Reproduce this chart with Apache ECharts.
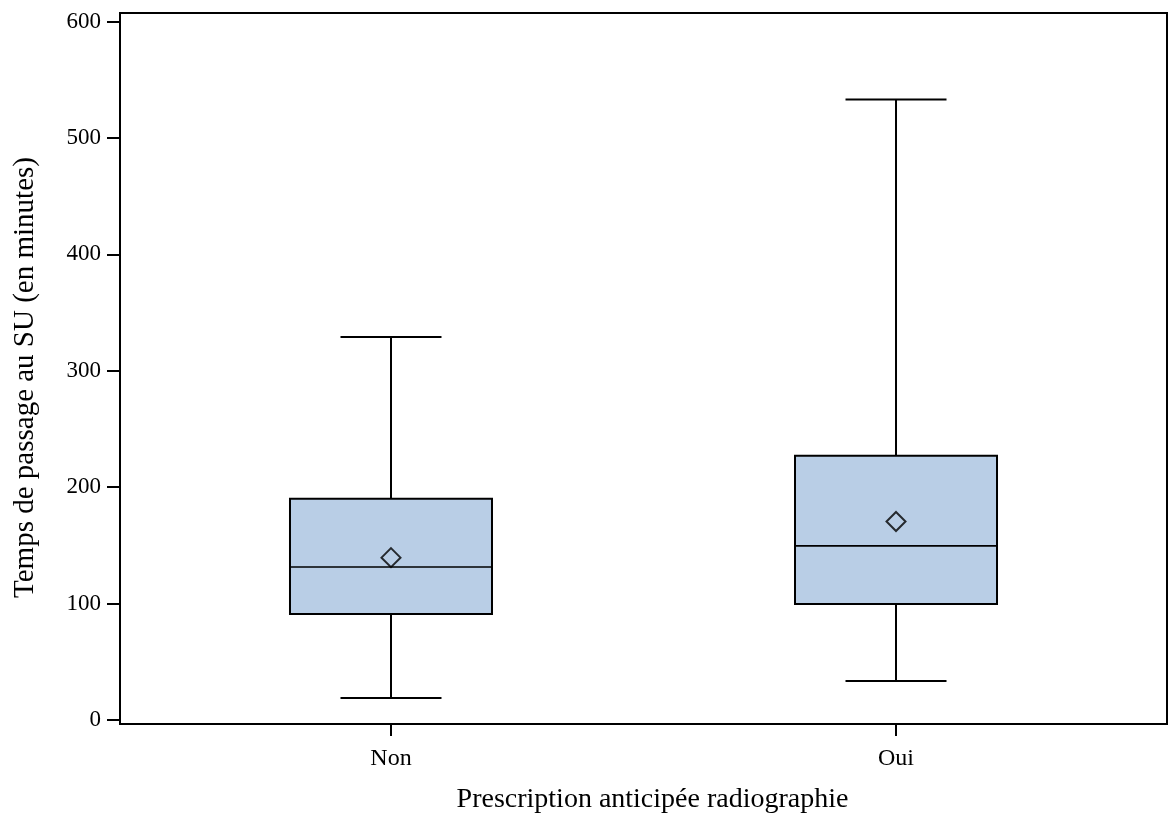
<!DOCTYPE html>
<html>
<head>
<meta charset="utf-8">
<script src="https://cdn.jsdelivr.net/npm/echarts@6/dist/echarts.min.js"></script>
<style>html,body{margin:0;padding:0;background:#fff}#c{width:1170px;height:824px}</style>
</head>
<body>
<div id="c"></div>
<script>
const categories = ['Non', 'Oui'];
const whiskerLow = [19, 33.5];
const q1 = [91, 99.7];
const median = [131.5, 149.6];
const q3 = [190, 227];
const whiskerHigh = [329, 533];
const means = [139.5, 170.5];
const yTicks = [0, 100, 200, 300, 400, 500, 600];

const boxData = categories.map((c, i) => [i, whiskerLow[i], q1[i], median[i], q3[i], whiskerHigh[i]]);
const meanData = categories.map((c, i) => [i, means[i]]);

const font = '"Liberation Serif", "Times New Roman", serif';
const chart = echarts.init(document.getElementById('c'), null, {renderer: 'canvas'});
chart.setOption({
  animation: false,
  backgroundColor: '#fff',
  grid: {left: 120, right: 3, top: 13, bottom: 100, show: true, borderColor: '#000', borderWidth: 2, backgroundColor: 'transparent'},
  xAxis: {
    type: 'value', min: -0.5366, max: 1.5366,
    splitLine: {show: false},
    axisLine: {show: false, onZero: false},
    axisTick: {show: true, length: 12, customValues: [0, 1], lineStyle: {color: '#000', width: 2}},
    axisLabel: {customValues: [0, 1], formatter: v => categories[Math.round(v)] || '', color: '#000', fontFamily: font, fontSize: 24, margin: 23},
    name: 'Prescription anticipée radiographie', nameLocation: 'middle', nameGap: 62,
    nameTextStyle: {color: '#000', fontFamily: font, fontSize: 28, padding: [0, 0, 0, 18]}
  },
  yAxis: {
    type: 'value', min: -3.4, max: 607.3,
    splitLine: {show: false},
    axisLine: {show: false, onZero: false},
    axisTick: {show: true, length: 13, customValues: yTicks, lineStyle: {color: '#000', width: 2}},
    axisLabel: {customValues: yTicks, color: '#000', fontFamily: font, fontSize: 23, margin: 19},
    name: 'Temps de passage au SU (en minutes)', nameLocation: 'middle', nameGap: 80,
    nameTextStyle: {color: '#000', fontFamily: font, fontSize: 29, padding: [0, 18, 0, 0]}
  },
  series: [
    {
      type: 'custom',
      data: boxData,
      encode: {x: 0, y: [1, 2, 3, 4, 5]},
      renderItem: function (params, api) {
        const x = api.value(0);
        const pLow = api.coord([x, api.value(1)]);
        const pQ1 = api.coord([x, api.value(2)]);
        const pMed = api.coord([x, api.value(3)]);
        const pQ3 = api.coord([x, api.value(4)]);
        const pHigh = api.coord([x, api.value(5)]);
        const w = api.size([0.4, 0])[0];
        const cx = pMed[0];
        const ls = {stroke: '#000', lineWidth: 2};
        return {
          type: 'group',
          children: [
            {type: 'line', shape: {x1: cx, y1: pQ3[1], x2: cx, y2: pHigh[1]}, style: ls},
            {type: 'line', shape: {x1: cx, y1: pQ1[1], x2: cx, y2: pLow[1]}, style: ls},
            {type: 'line', shape: {x1: cx - w / 4, y1: pHigh[1], x2: cx + w / 4, y2: pHigh[1]}, style: ls},
            {type: 'line', shape: {x1: cx - w / 4, y1: pLow[1], x2: cx + w / 4, y2: pLow[1]}, style: ls},
            {type: 'rect', shape: {x: cx - w / 2, y: pQ3[1], width: w, height: pQ1[1] - pQ3[1]}, style: {fill: '#b9cee6', stroke: '#000', lineWidth: 2}},
            {type: 'line', shape: {x1: cx - w / 2, y1: pMed[1], x2: cx + w / 2, y2: pMed[1]}, style: {stroke: '#000', lineWidth: 1.6}}
          ]
        };
      }
    },
    {
      type: 'scatter',
      data: meanData,
      symbol: 'diamond',
      symbolSize: 19,
      itemStyle: {color: 'rgba(0,0,0,0)', borderColor: '#000', borderWidth: 2},
      z: 5
    }
  ]
});
</script>
</body>
</html>
